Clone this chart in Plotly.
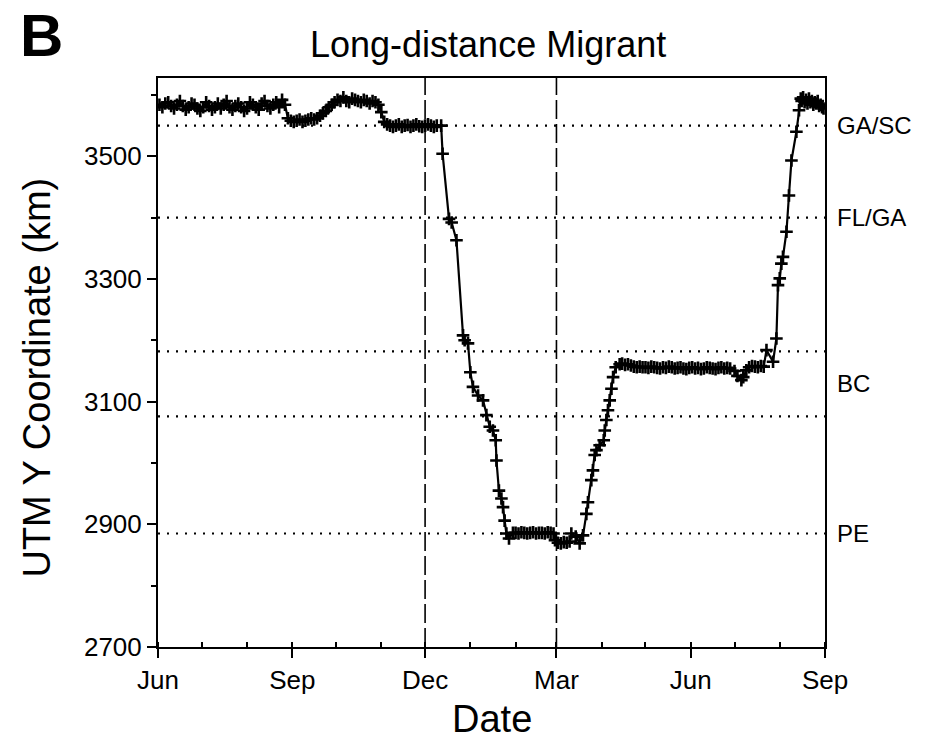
import pandas as pd
import plotly.graph_objects as go

# Days since 1 June 1997 and UTM northing (km) of the tracked bird
days_summer1 = [1, 3, 5, 7, 9, 11, 13, 15, 17, 19, 21, 23, 25, 27, 29, 31, 33, 35, 37, 39, 41, 43,
                45, 47, 49, 51, 53, 55, 57, 59, 61, 63, 65, 67, 69, 71, 73, 75, 77, 79, 81, 83, 85, 87]
km_summer1 = [3584, 3580, 3586, 3588, 3582, 3578, 3584, 3590, 3582, 3576, 3580, 3586, 3584, 3578, 3574,
              3580, 3588, 3582, 3576, 3580, 3586, 3578, 3584, 3590, 3580, 3576, 3582, 3586, 3580, 3574,
              3578, 3588, 3584, 3580, 3576, 3586, 3590, 3582, 3578, 3584, 3588, 3580, 3592, 3584]

days_autumn = [89, 91, 93, 95, 97, 99, 101, 103, 105, 107, 109, 111, 113, 115, 117, 119, 121, 123, 125,
               127, 129, 131, 133, 135, 137, 139, 141, 143, 145, 147, 149, 151, 153, 155]
km_autumn = [3562, 3558, 3556, 3558, 3560, 3556, 3558, 3560, 3562, 3560, 3562, 3566, 3570, 3574, 3580,
             3584, 3588, 3592, 3590, 3596, 3590, 3588, 3594, 3592, 3590, 3588, 3592, 3590, 3586, 3590,
             3588, 3584, 3572, 3556]

days_stop = [157, 159, 161, 163, 165, 167, 169, 171, 173, 175, 177, 179, 181, 183, 185, 187, 189, 191, 194]
km_stop = [3552, 3550, 3548, 3550, 3552, 3548, 3550, 3551, 3548, 3550, 3552, 3549, 3548, 3550, 3552,
           3550, 3548, 3550, 3550]

days_south = [195, 199.4, 201.2, 204.5, 209.0, 210.1, 212.4, 214.0, 215.8, 219.3, 222.7, 225.0, 227.3,
              229.5, 231.4, 231.9, 233.6, 235.3, 236.4, 237.5, 238.7, 240.5, 243.2]
km_south = [3504, 3398, 3392, 3363, 3208, 3200, 3195, 3148, 3124, 3110, 3102, 3078, 3059, 3053, 3037,
            3004, 2955, 2942, 2928, 2906, 2885, 2877, 2886]

days_winter = [245, 247, 249, 251, 253, 255, 257, 259, 261, 263, 265, 267, 269, 271, 272, 274, 276, 278,
               280, 282]
km_winter = [2886, 2885, 2887, 2886, 2885, 2886, 2887, 2885, 2886, 2886, 2885, 2887, 2886, 2885, 2874,
             2870, 2869, 2871, 2870, 2872]

days_north = [283.2, 286.2, 288.9, 291.2, 293.5, 294.6, 296.9, 298.0, 299.2, 300.4, 302.6, 305.4, 306.1,
              307.2, 308.3, 309.5, 310.7, 311.8, 313.6, 316.3]
km_north = [2885, 2880, 2869, 2882, 2917, 2936, 2972, 2988, 3013, 3021, 3029, 3037, 3053, 3070, 3086,
            3102, 3121, 3140, 3156, 3161]

days_bc = [318, 320, 322, 324, 326, 328, 330, 332, 334, 336, 338, 340, 342, 344, 346, 348, 350, 352, 354,
           356, 358, 360, 362, 364, 366, 368, 370, 372, 374, 376, 378, 380, 382, 384, 386, 388, 390, 392,
           395, 397, 399.7, 401, 403.1, 405, 407, 409, 411, 413, 415]
km_bc = [3162, 3160, 3161, 3159, 3157, 3156, 3157, 3156, 3156, 3155, 3157, 3156, 3155, 3154, 3156, 3155,
         3157, 3156, 3154, 3155, 3156, 3154, 3153, 3155, 3156, 3154, 3155, 3153, 3154, 3156, 3155, 3154,
         3153, 3155, 3156, 3154, 3155, 3154, 3150, 3142, 3135, 3140, 3151, 3156, 3158, 3157, 3156, 3158,
         3157]

days_return = [416.9, 421.4, 423.7, 424.8, 426.0, 427.1, 428.2, 430.6, 432.3, 434.0, 437.4, 439.2, 440.4]
km_return = [3184, 3165, 3203, 3290, 3301, 3325, 3336, 3377, 3436, 3493, 3540, 3575, 3594]

days_summer2 = [441, 442, 443, 444, 445, 446, 447, 448, 449, 450, 451, 452, 453, 454, 455, 456]
km_summer2 = [3590, 3596, 3588, 3592, 3586, 3594, 3588, 3590, 3584, 3588, 3586, 3590, 3582, 3584, 3580,
              3578]

# Reference latitudes (km) and their region labels
ref_km = [3550, 3400, 3182, 3076, 2885]
region_labels = ["GA/SC", "FL/GA", "BC", "PE"]
region_label_km = [3550, 3400, 3130, 2885]

# Season boundaries
season_lines = ["1997-12-01", "1998-03-01"]

tick_dates = ["1997-06-01", "1997-09-01", "1997-12-01", "1998-03-01", "1998-06-01", "1998-09-01"]
tick_text = ["Jun", "Sep", "Dec", "Mar", "Jun", "Sep"]

start = pd.Timestamp("1997-06-01")
all_days = (days_summer1 + days_autumn + days_stop + days_south + days_winter + days_north
            + days_bc + days_return + days_summer2)
all_km = (km_summer1 + km_autumn + km_stop + km_south + km_winter + km_north
          + km_bc + km_return + km_summer2)
assert len(all_days) == len(all_km)
dates = start + pd.to_timedelta(all_days, unit="D")

FONT = "Liberation Sans, Arial, Helvetica, sans-serif"

fig = go.Figure()

fig.add_trace(go.Scatter(
    x=dates, y=all_km, mode="lines+markers",
    line=dict(color="black", width=2.2),
    marker=dict(symbol="cross-thin", size=9, line=dict(color="black", width=2.6), color="black"),
    showlegend=False,
))

shapes = []
for k in ref_km:
    shapes.append(dict(type="line", xref="paper", x0=0, x1=1, yref="y", y0=k, y1=k,
                       line=dict(color="black", width=2.2, dash="2px,7px"), layer="below"))
for d in season_lines:
    shapes.append(dict(type="line", xref="x", x0=d, x1=d, yref="paper", y0=0, y1=1,
                       line=dict(color="black", width=1.6, dash="19px,5px"), layer="below"))

annotations = []
for lab, k in zip(region_labels, region_label_km):
    annotations.append(dict(text=lab, xref="paper", x=1, xanchor="left", xshift=10,
                            yref="y", y=k, yanchor="middle", showarrow=False,
                            font=dict(family=FONT, size=24, color="black")))

annotations += [
    dict(text="Long-distance Migrant", xref="paper", x=0.495, yref="paper", y=1.058,
         xanchor="center", yanchor="middle", showarrow=False,
         font=dict(family=FONT, size=36, color="black")),
    dict(text="Date", xref="paper", x=0.5, yref="paper", y=-0.127,
         xanchor="center", yanchor="middle", showarrow=False,
         font=dict(family=FONT, size=38, color="black")),
    dict(text="UTM Y Coordinate (km)", xref="paper", x=-0.181, yref="paper", y=0.474,
         xanchor="center", yanchor="middle", textangle=-90, showarrow=False,
         font=dict(family=FONT, size=38, color="black")),
    dict(text="<b>B</b>", xref="paper", x=-0.174, yref="paper", y=1.074,
         xanchor="center", yanchor="middle", showarrow=False,
         font=dict(family=FONT, size=60, color="black")),
]

fig.update_layout(
    width=940, height=745,
    margin=dict(l=158, r=115, t=78, b=98),
    paper_bgcolor="white", plot_bgcolor="white",
    font=dict(family=FONT, size=26, color="black"),
    shapes=shapes, annotations=annotations,
)

fig.update_xaxes(
    type="date", range=["1997-06-01", "1998-09-01"],
    tickmode="array", tickvals=tick_dates, ticktext=tick_text,
    ticks="outside", ticklen=9, tickwidth=2, tickcolor="black",
    tickfont=dict(family=FONT, size=26, color="black"),
    showline=True, linewidth=2, linecolor="black", mirror=True,
    showgrid=False, zeroline=False,
    minor=dict(dtick="M1", tick0="1997-06-01", ticks="inside", ticklen=5,
               tickwidth=1.5, tickcolor="black", showgrid=False),
)

fig.update_yaxes(
    range=[2700, 3627.6], tickmode="linear", tick0=2700, dtick=200,
    ticks="outside", ticklen=9, tickwidth=2, tickcolor="black",
    tickfont=dict(family=FONT, size=26, color="black"),
    showline=True, linewidth=2, linecolor="black", mirror=True,
    showgrid=False, zeroline=False,
    minor=dict(dtick=100, tick0=2700, ticks="outside", ticklen=5,
               tickwidth=1.5, tickcolor="black", showgrid=False),
)

fig.write_html("out.html")
